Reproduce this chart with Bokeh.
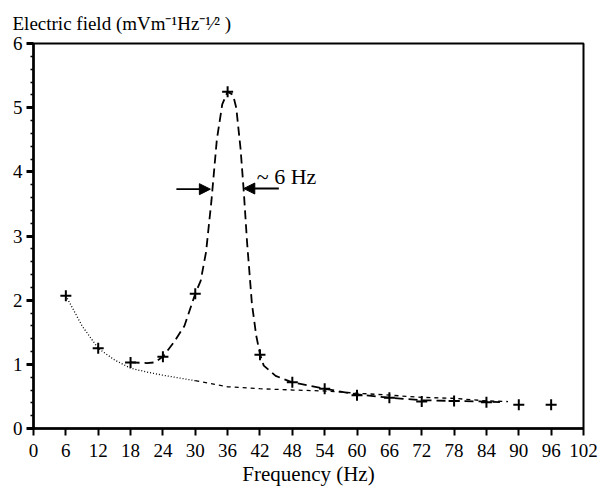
from bokeh.plotting import figure
from bokeh.models import Range1d, FixedTicker, Label, Arrow, NormalHead, Title
from bokeh.embed import file_html
from bokeh.resources import INLINE

# ---- data ----
freq_hz = [6, 12, 18, 24, 30, 36, 42, 48, 54, 60, 66, 72, 78, 84, 90, 96]
field_measured = [2.07, 1.25, 1.03, 1.12, 2.10, 5.25, 1.15, 0.72, 0.62, 0.52,
                  0.48, 0.42, 0.43, 0.41, 0.37, 0.37]

# resonance (dashed) curve
peak_x = [18, 21, 22.5, 24, 26, 28, 30, 31, 32, 33, 34, 35, 36, 37, 37.6,
          38.4, 39, 39.6, 40.5, 41.3, 42, 42.7, 44.9, 48, 54, 60, 66, 72, 78, 84, 86.5]
peak_y = [1.03, 1.02, 1.03, 1.12, 1.34, 1.6, 2.1, 2.3, 2.75, 3.55, 4.5, 5.05, 5.25,
          5.2, 5.0, 4.36, 3.69, 2.91, 1.95, 1.45, 1.16, 0.98, 0.82, 0.72, 0.62, 0.53,
          0.48, 0.44, 0.43, 0.42, 0.41]

# background (dotted) curve
bg_x = [6, 9, 12, 15, 18, 21, 24, 30, 36, 42, 48, 54, 60, 66, 72, 78, 84, 88]
bg_y = [2.07, 1.6, 1.25, 1.07, 0.94, 0.88, 0.83, 0.745, 0.65, 0.62, 0.60, 0.585,
        0.55, 0.52, 0.485, 0.47, 0.43, 0.42]

x_ticks = list(range(0, 103, 6))
y_ticks = [0, 1, 2, 3, 4, 5, 6]
y_minor = [i / 5 for i in range(0, 31)]

SERIF = "Liberation Serif"

p = figure(width=613, height=490, output_backend="svg", toolbar_location=None,
           x_range=Range1d(0, 102), y_range=Range1d(0, 6),
           min_border_left=33, min_border_right=30, min_border_top=41,
           min_border_bottom=62)
p.grid.visible = False
p.outline_line_color = "black"
p.outline_line_width = 2
p.background_fill_color = "white"
p.border_fill_color = "white"

# axis title placed above the frame
p.add_layout(Title(text="Electric field (mVm\u207b\u00b9Hz\u207b\u00b9\u2044\u00b2 )",
                   align="left", offset=-21, standoff=20,
                   text_font=SERIF, text_font_size="19px",
                   text_font_style="normal", text_color="black"), "above")

# axes
p.xaxis.ticker = FixedTicker(ticks=x_ticks)
p.yaxis.ticker = FixedTicker(ticks=y_ticks, minor_ticks=y_minor)
for ax in (p.xaxis[0], p.yaxis[0]):
    ax.axis_line_color = "black"
    ax.axis_line_width = 2.5
    ax.major_tick_line_color = "black"
    ax.major_tick_in = 0
    ax.major_tick_out = 7
    ax.major_label_text_font = SERIF
    ax.major_label_text_font_size = "19px"
    ax.major_label_text_color = "black"
p.xaxis.major_tick_line_width = 2
p.yaxis.major_tick_line_width = 3
p.xaxis.minor_tick_line_color = None
p.yaxis.minor_tick_in = 0
p.yaxis.minor_tick_out = 3
p.yaxis.minor_tick_line_width = 1.5
p.yaxis.minor_tick_line_color = "black"
p.xaxis.major_label_standoff = 8
p.yaxis.major_label_standoff = 4
p.xaxis.axis_label = "Frequency (Hz)"
p.xaxis.axis_label_text_font = SERIF
p.xaxis.axis_label_text_font_size = "21px"
p.xaxis.axis_label_text_font_style = "normal"
p.xaxis.axis_label_standoff = 2
p.xaxis.axis_label_text_color = "black"

# curves
p.line(bg_x[:8], bg_y[:8], line_color="black", line_width=1.3, line_dash="1 2")
p.line(bg_x[7:], bg_y[7:], line_color="black", line_width=1.3, line_dash="4 4")
p.line(peak_x, peak_y, line_color="black", line_width=1.8, line_dash="9 5")

# measured points
p.scatter(freq_hz, field_measured, marker="cross", size=11, line_color="black",
          line_width=2)

# bandwidth annotation
p.add_layout(Arrow(x_start=26.5, y_start=3.73, x_end=32.8, y_end=3.73,
                   line_color="black", line_width=1.8,
                   end=NormalHead(size=11, fill_color="black", line_color="black")))
p.add_layout(Arrow(x_start=45.5, y_start=3.74, x_end=39.0, y_end=3.74,
                   line_color="black", line_width=1.8,
                   end=NormalHead(size=11, fill_color="black", line_color="black")))
p.add_layout(Label(x=41.4, y=3.93, text="~ 6 Hz", text_font=SERIF,
                   text_font_size="22px", text_color="black",
                   text_baseline="alphabetic"))

open("out.html", "w").write(file_html(p, INLINE))
